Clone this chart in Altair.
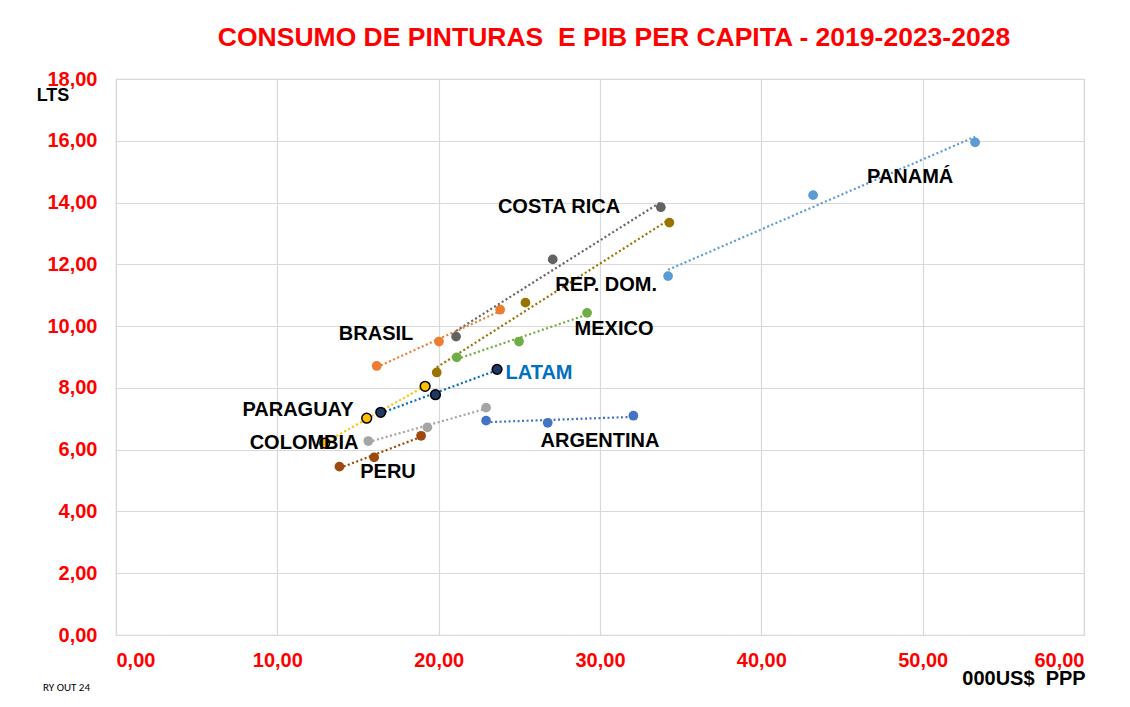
import altair as alt
import pandas as pd

# ---- data ----
countries = ["PANAMÁ", "COSTA RICA", "REP. DOM.", "MEXICO", "BRASIL",
             "LATAM", "PARAGUAY", "COLOMBIA", "PERU", "ARGENTINA"]
years = ["2019", "2023", "2028"]
gdp_2019 = [34.22, 21.08, 19.88, 21.12, 16.16, 16.41, 12.94, 15.64, 13.85, 22.94]
gdp_2023 = [43.21, 27.07, 25.38, 24.98, 20.02, 19.80, 15.54, 19.30, 16.00, 26.76]
gdp_2028 = [53.25, 33.77, 34.30, 29.20, 23.81, 23.62, 19.16, 22.94, 18.91, 32.07]
paint_2019 = [11.62, 9.66, 8.50, 8.99, 8.71, 7.21, 6.21, 6.28, 5.45, 6.94]
paint_2023 = [14.24, 12.16, 10.76, 9.50, 9.50, 7.78, 7.02, 6.72, 5.75, 6.87]
paint_2028 = [15.95, 13.85, 13.35, 10.43, 10.53, 8.60, 8.05, 7.36, 6.45, 7.10]

fill_colors = ["#5B9BD5", "#636363", "#997300", "#70AD47", "#ED7D31",
               "#203864", "#FFC000", "#A5A5A5", "#9E480E", "#4472C4"]
line_colors = ["#5B9BD5", "#636363", "#997300", "#70AD47", "#ED7D31",
               "#0070C0", "#FFC000", "#A5A5A5", "#9E480E", "#4472C4"]
stroke_colors = ["#5B9BD5", "#636363", "#997300", "#70AD47", "#ED7D31",
                 "#000000", "#000000", "#A5A5A5", "#9E480E", "#4472C4"]
stroke_widths = [0, 0, 0, 0, 0, 1.5, 1.5, 0, 0, 0]

# label anchors (data units)
label_text = ["PANAMÁ", "COSTA RICA", "REP. DOM.", "MEXICO", "LATAM",
              "BRASIL", "PARAGUAY", "COLOMBIA", "PERU", "ARGENTINA"]
label_x = [49.22, 27.46, 30.38, 30.87, 26.22, 16.12, 11.28, 11.66, 16.86, 30.0]
label_y = [14.83, 13.86, 11.33, 9.91, 8.48, 9.74, 7.28, 6.22, 5.28, 6.28]
label_colors = ["#000000"] * 4 + ["#0070C0"] + ["#000000"] * 5

x_ticks = [0, 10, 20, 30, 40, 50, 60]
y_ticks = [0, 2, 4, 6, 8, 10, 12, 14, 16, 18]

title_text = "CONSUMO DE PINTURAS\u00a0\u00a0E PIB PER CAPITA - 2019-2023-2028"

# ---- build tables ----
rows = []
for i, c in enumerate(countries):
    for yr, gx, py in zip(years, [gdp_2019, gdp_2023, gdp_2028],
                          [paint_2019, paint_2023, paint_2028]):
        rows.append({"country": c, "year": yr, "gdp": gx[i], "paint": py[i],
                     "fc": fill_colors[i], "sc": stroke_colors[i],
                     "sw": stroke_widths[i]})
df = pd.DataFrame(rows)

labels_df = pd.DataFrame({"label": label_text, "lx": label_x, "ly": label_y,
                          "lc": label_colors})

FONT = "Liberation Sans, Arial, sans-serif"
fmt = "replace(format(datum.value, '.2f'), '.', ',')"

xs = alt.Scale(domain=[0, 60], nice=False, zero=True)
ys = alt.Scale(domain=[0, 18], nice=False, zero=True)

x_axis = alt.Axis(values=x_ticks, labelExpr=fmt, title=None, grid=True,
                  labelPadding=15)
y_axis = alt.Axis(values=y_ticks, labelExpr=fmt, title=None, grid=True,
                  labelPadding=19)

base = alt.Chart(df)

lines = base.transform_regression(
    "gdp", "paint", groupby=["country"]
).mark_line(strokeDash=[2, 2.5], strokeWidth=2.2).encode(
    x=alt.X("gdp:Q", scale=xs, axis=x_axis),
    y=alt.Y("paint:Q", scale=ys, axis=y_axis),
    color=alt.Color("country:N", scale=alt.Scale(domain=countries, range=line_colors),
                    legend=None),
)

points = base.mark_point(shape="circle", filled=True, size=95, opacity=1).encode(
    x=alt.X("gdp:Q", scale=xs),
    y=alt.Y("paint:Q", scale=ys),
    fill=alt.Fill("fc:N", scale=None),
    stroke=alt.Stroke("sc:N", scale=None),
    strokeWidth=alt.StrokeWidth("sw:Q", scale=None),
)

labels = alt.Chart(labels_df).mark_text(
    font=FONT, fontSize=20, fontWeight="bold", align="center", baseline="middle"
).encode(
    x=alt.X("lx:Q", scale=xs),
    y=alt.Y("ly:Q", scale=ys),
    text="label:N",
    color=alt.Color("lc:N", scale=None),
)

title = alt.Chart(pd.DataFrame({"t": [title_text]})).mark_text(
    font=FONT, fontSize=26.5, fontWeight="bold", color="#FF0000", align="center",
    baseline="alphabetic"
).encode(x=alt.value(498), y=alt.value(-33), text="t:N")

lts = alt.Chart(pd.DataFrame({"t": ["LTS"]})).mark_text(
    font=FONT, fontSize=18, fontWeight="bold", color="#000000", align="center",
    baseline="middle"
).encode(x=alt.value(-63), y=alt.value(17), text="t:N")

xunit = alt.Chart(pd.DataFrame({"t": ["000US$\u00a0\u00a0PPP"]})).mark_text(
    font=FONT, fontSize=20, fontWeight="bold", color="#000000", align="center",
    baseline="middle"
).encode(x=alt.value(908), y=alt.value(600), text="t:N")

note = alt.Chart(pd.DataFrame({"t": ["RY OUT 24"]})).mark_text(
    font="Carlito, Liberation Sans, sans-serif", fontSize=11, color="#000000",
    align="left", baseline="middle"
).encode(x=alt.value(-73), y=alt.value(609), text="t:N")

chart = alt.layer(lines, points, labels, title, lts, xunit, note).properties(
    width=968, height=556,
    autosize=alt.AutoSizeParams(type="none"),
    padding={"left": 108, "top": 71, "right": 38, "bottom": 64},
    background="white",
).configure_axis(
    labelFont=FONT, labelFontSize=20, labelFontWeight="bold", labelColor="#FF0000",
    gridColor="#D9D9D9", gridWidth=1.2, domainColor="#D9D9D9", ticks=False,
).configure_view(stroke="#D9D9D9", strokeWidth=1.2)

chart.save("out.html", embed_options={"renderer": "svg", "actions": False})
